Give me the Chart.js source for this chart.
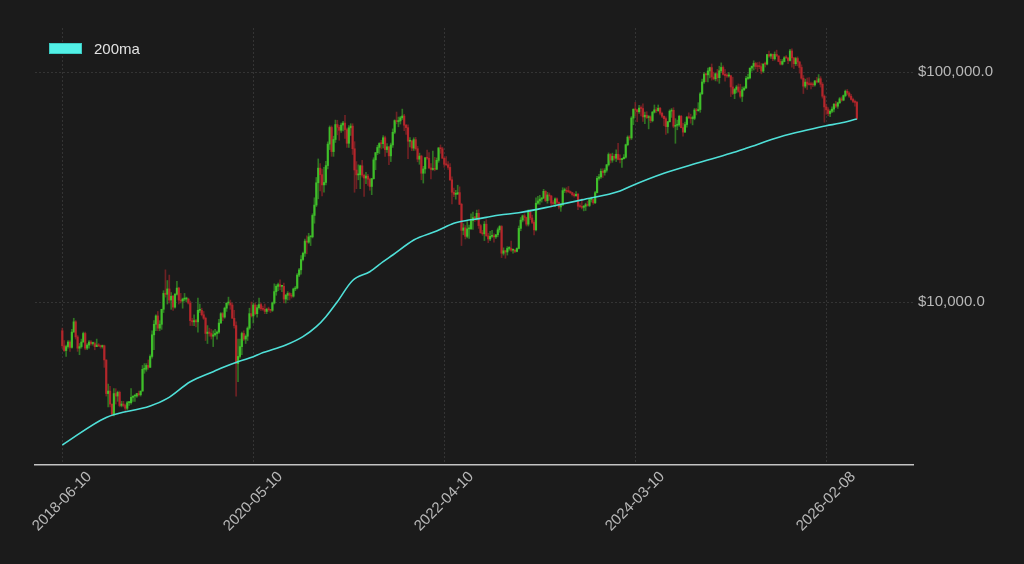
<!DOCTYPE html>
<html>
<head>
<meta charset="utf-8">
<title>BTC weekly with 200ma</title>
<script src="https://cdn.jsdelivr.net/npm/chart.js@4.4.1/dist/chart.umd.min.js"></script>
<style>
  html, body { margin: 0; padding: 0; background: #1b1b1b; }
  #wrap { position: relative; width: 1024px; height: 564px; }
  #legend { position: absolute; left: 49px; top: 40px; height: 17px; display: flex; align-items: center;
            font: 15px 'Liberation Sans', Arial, sans-serif; line-height: 17px; color: #e2e2e2; }
  #legend .swatch { width: 31px; height: 9px; background: #52f0e6; border: 1px solid #3ccbc3; margin-right: 12px; }
</style>
</head>
<body>
<div id="wrap">
  <canvas id="chart" width="1024" height="564"></canvas>
  <div id="legend"><span class="swatch"></span><span>200ma</span></div>
</div>
<script>
(function () {
  'use strict';

  // weekly candles from 2018-06-10, prices in $k
  var OPEN = [
    7.5,6.45,6.15,6.4,6.7,6.35,7.4,8.2,7.05,6.3,
    6.4,6.7,7.3,6.3,6.5,6.7,6.6,6.6,6.4,6.5,
    6.45,6.4,6.45,5.6,4.0,4.1,3.6,3.25,4.0,3.9,
    4.05,3.55,3.6,3.55,3.45,3.65,3.65,3.85,3.9,3.9,
    4.0,3.95,4.1,5.1,5.1,5.3,5.2,5.8,7.2,8.0,
    8.7,7.7,8.0,9.3,10.9,10.8,11.4,10.2,10.6,9.5,
    10.8,11.5,10.2,10.1,10.3,10.3,10.3,9.9,8.3,8.2,
    8.3,8.2,9.2,9.2,8.8,8.5,7.3,7.4,7.3,7.1,
    7.2,7.3,7.4,8.1,8.9,8.6,9.4,9.9,9.9,9.7,
    8.5,7.9,5.4,5.8,6.4,7.3,6.9,7.1,7.7,8.9,
    8.7,9.7,8.9,9.45,9.75,9.35,9.3,9.1,9.3,9.25,
    9.2,9.9,11.1,11.7,11.9,11.7,11.7,10.3,10.7,10.9,
    10.7,10.6,11.4,11.5,13.1,13.8,15.3,16.3,18.4,18.2,
    19.2,19.2,23.8,26.4,33.0,38.2,35.8,32.3,33.1,39.2,
    48.6,57.4,45.1,50.9,59.1,57.5,55.8,58.8,60.0,56.2,
    49.0,57.2,58.2,46.4,37.5,35.7,35.8,39.1,35.6,34.6,
    35.3,34.2,31.8,34.4,41.5,44.6,47.0,48.9,48.8,51.8,
    46.0,47.3,43.2,48.2,54.7,61.5,60.9,61.3,63.3,64.4,
    58.7,57.3,50.0,50.1,46.7,50.8,46.4,41.8,43.1,36.3,
    37.9,42.4,42.2,38.3,37.7,38.1,37.8,41.3,46.8,46.4,
    42.2,39.7,39.5,38.5,34.0,30.0,29.4,29.5,29.9,26.6,
    20.5,21.0,19.3,20.8,20.8,22.6,23.3,23.2,24.3,21.5,
    20.0,19.8,21.8,19.4,18.8,19.3,19.4,19.2,19.6,20.6,
    21.3,16.3,16.7,16.5,17.1,17.1,16.8,16.8,16.6,17.1,
    20.9,22.7,23.7,23.3,21.8,24.6,23.2,22.2,20.6,26.9,
    27.5,28.0,28.3,30.3,27.6,29.2,28.9,26.9,26.8,28.1,
    27.1,25.9,26.4,30.5,30.6,30.3,30.2,29.9,29.3,29.0,
    29.4,26.1,26.0,25.8,26.1,26.5,26.3,27.9,27.9,27.0,
    29.9,34.5,35.0,37.0,36.6,37.4,39.5,43.8,41.4,43.0,
    42.2,43.9,41.7,41.6,42.0,42.6,48.3,52.1,51.7,63.1,
    68.9,68.4,67.2,69.7,69.4,63.8,64.9,63.4,63.9,61.5,
    66.9,68.5,67.8,69.6,66.2,64.2,62.7,57.9,60.8,67.6,
    68.2,58.1,58.7,58.9,64.2,57.3,54.8,59.1,63.6,63.3,
    62.8,62.9,68.4,67.9,68.7,80.4,90.5,98.0,97.2,101.1,
    104.5,95.2,93.4,98.3,94.5,101.3,104.7,97.7,96.5,96.1,
    96.3,86.1,80.7,84.0,86.1,82.4,78.4,83.8,85.2,93.8,
    94.3,104.0,106.0,109.0,105.7,105.6,105.5,100.9,108.4,108.2,
    119.1,117.3,119.4,114.2,119.3,117.5,111.2,108.2,111.1,115.3,
    115.2,112.2,123.5,115.2,108.7,114.5,110.6,104.7,94.0,86.8,
    90.4,88.5,88.2,88.1,87.9,91.5,90.5,93.5,88.5,78.5,
    70.5,68.5,66.0,67.5,69.0,72.5,71.0,73.5,76.5,75.5,
    79.0,82.5,81.0,78.5,76.0,74.5,73.8
  ];
  var HIGH = [
    7.7,6.8,6.5,6.8,6.8,7.6,8.5,8.3,7.15,6.6,
    6.9,7.4,7.4,6.6,6.8,6.8,6.7,6.7,6.9,6.6,
    6.5,6.5,6.5,5.6,4.4,4.3,3.6,4.2,4.2,4.1,
    4.1,3.7,3.7,3.6,3.7,3.7,4.2,3.9,3.95,4.0,
    4.1,4.1,5.3,5.4,5.4,5.6,5.9,7.5,8.3,8.8,
    9.1,8.3,9.3,11.2,13.8,12.4,13.1,11.0,10.7,10.9,
    12.3,11.6,10.9,10.4,10.9,10.5,10.4,10.1,8.5,8.8,
    8.4,10.4,9.8,9.4,9.1,8.6,7.9,7.7,7.6,7.5,
    7.6,7.5,8.4,9.0,9.0,9.5,9.9,10.5,10.2,9.9,
    9.2,8.2,6.9,6.9,7.4,7.5,7.2,7.8,9.4,10.0,
    9.9,9.9,9.7,10.4,9.9,9.6,9.8,9.4,9.5,9.3,
    10.0,12.0,11.9,12.1,12.5,11.8,12.1,10.8,11.1,11.0,
    10.9,11.5,11.7,13.3,14.0,15.9,16.5,18.8,19.4,19.9,
    19.4,24.2,28.4,34.8,41.9,40.0,37.8,38.5,40.9,49.7,
    58.3,58.3,52.6,61.8,61.7,58.6,60.0,61.0,64.9,57.0,
    58.5,59.6,59.6,49.8,40.8,39.5,39.4,41.3,36.0,36.6,
    35.9,34.6,34.5,42.4,44.7,48.0,49.3,50.5,52.9,52.7,
    48.8,47.4,49.1,56.6,62.0,67.0,63.7,64.2,69.0,65.5,
    59.3,59.0,51.9,50.5,51.8,52.0,47.5,44.4,43.5,38.9,
    42.5,45.8,44.7,40.0,45.3,42.6,42.3,46.9,48.2,47.1,
    42.4,42.9,40.8,40.0,35.0,31.3,30.6,32.2,31.7,26.9,
    21.9,21.5,22.4,21.6,24.2,24.6,23.6,25.1,25.2,21.8,
    20.5,22.4,22.8,19.9,20.3,20.5,19.8,19.7,21.0,21.5,
    21.5,17.2,16.8,17.4,17.4,18.4,17.0,16.9,17.2,21.4,
    23.3,23.9,24.2,23.4,25.2,25.1,23.9,22.6,28.4,28.8,
    29.1,28.5,30.9,30.5,30.0,29.8,29.1,27.6,28.4,28.4,
    27.3,26.8,31.4,31.3,31.4,31.8,30.4,30.0,29.7,30.2,
    29.7,26.8,28.1,26.3,26.9,27.4,28.0,28.6,28.0,30.3,
    35.2,35.9,37.9,38.0,38.0,39.7,44.5,44.2,44.4,43.8,
    45.9,49.0,43.6,42.2,43.8,48.6,52.8,52.9,64.0,69.2,
    73.8,68.9,71.6,71.3,72.8,66.9,67.2,64.7,64.5,67.5,
    71.9,70.0,71.9,70.2,66.9,64.5,63.8,61.0,68.5,69.4,
    70.0,62.7,61.8,64.9,64.9,59.8,60.6,64.1,66.5,65.6,
    64.4,69.4,69.5,73.6,81.5,93.3,99.5,98.9,104.0,105.0,
    108.4,99.9,98.9,102.7,106.0,109.6,106.5,102.5,98.5,99.5,
    96.9,95.0,84.9,87.4,88.8,88.5,86.1,86.4,95.8,97.9,
    104.1,106.2,111.9,110.4,110.0,110.6,108.9,108.5,110.6,119.5,
    123.2,120.2,119.8,122.3,124.5,117.6,113.6,113.4,116.7,117.9,
    115.4,125.5,126.2,115.9,116.0,116.4,111.2,107.5,96.6,93.1,
    94.2,94.6,90.5,89.9,91.8,94.8,97.5,95.5,90.0,79.5,
    72.5,70.0,68.5,70.5,73.0,74.5,74.0,77.5,78.0,79.5,
    83.5,84.0,82.0,80.0,77.0,75.5,74.5
  ];
  var LOW = [
    6.3,6.1,5.8,6.3,6.1,6.3,7.4,6.9,6.1,5.9,
    6.3,6.7,6.2,6.2,6.3,6.5,6.5,6.2,6.4,6.4,
    6.3,6.3,5.2,3.9,3.5,3.5,3.2,3.2,3.6,3.7,
    3.5,3.5,3.5,3.35,3.4,3.55,3.6,3.7,3.7,3.85,
    3.9,3.9,4.1,4.9,5.0,5.1,5.2,5.7,6.2,7.5,
    7.5,7.5,7.6,9.0,10.5,9.8,9.9,9.3,9.2,9.4,
    10.7,9.8,9.9,9.4,10.1,10.0,9.8,7.9,7.9,7.9,
    7.8,7.4,9.0,8.7,8.4,6.8,6.6,7.1,6.9,6.4,
    7.1,6.9,7.3,8.1,8.3,8.5,9.1,9.7,9.3,8.5,
    7.7,3.9,4.5,5.7,5.9,6.8,6.6,6.8,7.6,8.6,
    8.1,8.8,8.6,9.3,9.2,9.2,8.9,8.9,9.1,9.0,
    9.1,9.8,10.7,11.2,11.3,11.1,9.9,9.9,10.2,10.2,
    10.4,10.5,11.2,11.4,12.9,13.2,15.1,15.8,16.2,18.0,
    17.6,19.0,22.0,26.0,28.1,30.4,28.9,30.0,32.3,37.9,
    46.0,43.0,43.0,49.4,53.3,50.5,54.6,55.5,51.5,47.0,
    47.0,53.0,43.8,30.0,31.1,34.0,31.1,34.9,28.8,32.7,
    32.1,30.6,29.3,34.2,37.6,43.7,44.2,46.3,46.7,43.0,
    44.7,39.6,40.8,47.0,53.9,59.5,57.8,59.4,62.2,55.6,
    53.5,42.0,47.3,45.5,45.6,45.7,40.7,39.7,34.0,32.9,
    36.3,41.7,38.0,34.3,37.4,37.2,37.6,40.5,44.3,42.1,
    38.5,39.2,37.7,33.7,26.7,28.7,28.0,29.3,26.5,17.6,
    19.6,18.8,19.0,18.9,20.7,20.7,22.4,22.7,20.9,19.9,
    19.5,18.5,19.3,18.1,18.5,19.1,18.2,18.9,19.2,20.1,
    15.6,16.0,15.5,16.0,16.8,16.6,16.3,16.4,16.5,17.0,
    20.4,22.3,22.5,21.4,21.4,22.8,21.9,19.6,20.4,26.6,
    26.6,27.2,28.2,27.3,26.9,27.7,25.9,26.5,26.0,26.6,
    25.4,24.8,26.3,29.9,29.8,29.9,29.6,28.9,28.6,28.8,
    25.2,25.8,25.4,24.9,25.0,26.1,26.0,27.2,26.6,26.8,
    29.8,33.9,34.5,34.8,35.6,36.7,39.0,40.2,40.5,41.4,
    40.8,41.5,40.3,38.5,41.8,42.2,47.8,50.6,50.9,59.0,
    64.5,60.8,66.0,64.5,61.0,59.6,62.8,56.6,60.2,60.7,
    66.3,66.6,67.6,65.1,63.4,58.4,53.5,54.3,60.6,63.5,
    57.2,49.0,56.1,58.0,57.2,52.6,54.6,57.6,62.7,59.9,
    58.9,62.0,65.1,67.5,66.8,80.0,89.3,90.8,90.5,94.3,
    92.2,92.5,91.5,91.2,89.3,99.5,96.8,91.2,94.8,94.9,
    78.2,79.8,76.6,81.1,81.6,77.1,74.4,83.0,84.9,92.8,
    93.4,100.8,102.0,103.1,100.4,103.4,98.2,99.6,105.1,107.5,
    115.7,114.7,112.0,112.7,116.8,110.8,107.3,107.3,110.6,114.7,
    108.7,111.6,105.0,103.5,106.7,106.4,98.9,93.0,80.6,85.3,
    84.0,87.6,84.5,86.4,86.8,89.5,90.0,86.0,77.0,60.5,
    65.5,64.5,64.0,66.5,67.0,70.0,69.5,73.0,74.5,75.0,
    78.0,79.5,77.5,75.5,73.5,71.0,62.0
  ];
  var CLOSE = [
    6.45,6.15,6.4,6.7,6.35,7.4,8.2,7.05,6.3,6.4,
    6.7,7.3,6.3,6.5,6.7,6.6,6.6,6.4,6.5,6.45,
    6.4,6.45,5.6,4.0,4.1,3.6,3.25,4.0,3.9,4.05,
    3.55,3.6,3.55,3.45,3.65,3.65,3.85,3.9,3.9,4.0,
    3.95,4.1,5.1,5.1,5.3,5.2,5.8,7.2,8.0,8.7,
    7.7,8.0,9.3,10.9,10.8,11.4,10.2,10.6,9.5,10.8,
    11.5,10.2,10.1,10.3,10.3,10.3,9.9,8.3,8.2,8.3,
    8.2,9.2,9.2,8.8,8.5,7.3,7.4,7.3,7.1,7.2,
    7.3,7.4,8.1,8.9,8.6,9.4,9.9,9.9,9.7,8.5,
    7.9,5.4,5.8,6.4,7.3,6.9,7.1,7.7,8.9,8.7,
    9.7,8.9,9.45,9.75,9.35,9.3,9.1,9.3,9.25,9.2,
    9.9,11.1,11.7,11.9,11.7,11.7,10.3,10.7,10.9,10.7,
    10.6,11.4,11.5,13.1,13.8,15.3,16.3,18.4,18.2,19.2,
    19.2,23.8,26.4,33.0,38.2,35.8,32.3,33.1,39.2,48.6,
    57.4,45.1,50.9,59.1,57.5,55.8,58.8,60.0,56.2,49.0,
    57.2,58.2,46.4,37.5,35.7,35.8,39.1,35.6,34.6,35.3,
    34.2,31.8,34.4,41.5,44.6,47.0,48.9,48.8,51.8,46.0,
    47.3,43.2,48.2,54.7,61.5,60.9,61.3,63.3,64.4,58.7,
    57.3,50.0,50.1,46.7,50.8,46.4,41.8,43.1,36.3,37.9,
    42.4,42.2,38.3,37.7,38.1,37.8,41.3,46.8,46.4,42.2,
    39.7,39.5,38.5,34.0,30.0,29.4,29.5,29.9,26.6,20.5,
    21.0,19.3,20.8,20.8,22.6,23.3,23.2,24.3,21.5,20.0,
    19.8,21.8,19.4,18.8,19.3,19.4,19.2,19.6,20.6,21.3,
    16.3,16.7,16.5,17.1,17.1,16.8,16.8,16.6,17.1,20.9,
    22.7,23.7,23.3,21.8,24.6,23.2,22.2,20.6,26.9,27.5,
    28.0,28.3,30.3,27.6,29.2,28.9,26.9,26.8,28.1,27.1,
    25.9,26.4,30.5,30.6,30.3,30.2,29.9,29.3,29.0,29.4,
    26.1,26.0,25.8,26.1,26.5,26.3,27.9,27.9,27.0,29.9,
    34.5,35.0,37.0,36.6,37.4,39.5,43.8,41.4,43.0,42.2,
    43.9,41.7,41.6,42.0,42.6,48.3,52.1,51.7,63.1,68.9,
    68.4,67.2,69.7,69.4,63.8,64.9,63.4,63.9,61.5,66.9,
    68.5,67.8,69.6,66.2,64.2,62.7,57.9,60.8,67.6,68.2,
    58.1,58.7,58.9,64.2,57.3,54.8,59.1,63.6,63.3,62.8,
    62.9,68.4,67.9,68.7,80.4,90.5,98.0,97.2,101.1,104.5,
    95.2,93.4,98.3,94.5,101.3,104.7,97.7,96.5,96.1,96.3,
    86.1,80.7,84.0,86.1,82.4,78.4,83.8,85.2,93.8,94.3,
    104.0,106.0,109.0,105.7,105.6,105.5,100.9,108.4,108.2,119.1,
    117.3,119.4,114.2,119.3,117.5,111.2,108.2,111.1,115.3,115.2,
    112.2,123.5,115.2,108.7,114.5,110.6,104.7,94.0,86.8,90.4,
    88.5,88.2,88.1,87.9,91.5,90.5,93.5,88.5,78.5,70.5,
    68.5,66.0,67.5,69.0,72.5,71.0,73.5,76.5,75.5,79.0,
    82.5,81.0,78.5,76.0,74.5,73.8,62.8
  ];

  // 200 week moving average, read at these week numbers ($k)
  var MA_WEEKS = [0, 23, 46, 55, 67, 79, 83, 93, 100, 104, 117, 126, 133, 138, 144, 152, 161, 168, 173, 184,
    187, 196, 205, 208, 219, 222, 229, 239, 257, 272, 292, 297, 315, 332, 350, 358, 376, 390, 400, 407, 416];
  var MA_VALUES = [2.39, 3.15, 3.53, 3.81, 4.50, 4.98, 5.15, 5.54, 5.78, 5.98, 6.50, 7.07, 7.81, 8.63, 10.03, 12.40, 13.54, 14.97, 16.01, 18.60,
    19.11, 20.36, 21.98, 22.34, 23.11, 23.34, 23.89, 24.45, 26.15, 27.8, 30.38, 31.72, 36.27, 40.09, 44.32, 46.59, 52.33, 55.96, 58.42, 59.84, 62.47];

  var TICK_WEEKS = [0, 100, 200, 300, 400];
  var TICK_LABELS = ['2018-06-10', '2020-05-10', '2022-04-10', '2024-03-10', '2026-02-08'];
  var Y_TICKS = [10000, 100000];

  var K = 1000;
  var UP = '#3fbf2a';
  var DOWN = '#b3262b';
  var UP_WICK = 'rgba(63, 191, 42, 0.55)';
  var DOWN_WICK = 'rgba(179, 38, 43, 0.55)';
  var MA_COLOR = '#4fe0d8';
  var TEXT = '#b8b8b8';
  var GRID = 'rgba(255, 255, 255, 0.11)';
  var FONT = "'Liberation Sans', Arial, sans-serif";

  function isUp(i) { return CLOSE[i] >= OPEN[i]; }

  var wicks = [], bodies = [];
  for (var i = 0; i < CLOSE.length; i++) {
    wicks.push({ x: i, y: [LOW[i] * K, HIGH[i] * K] });
    bodies.push({ x: i, y: [OPEN[i] * K, CLOSE[i] * K] });
  }
  var ma = MA_WEEKS.map(function (w, k) { return { x: w, y: MA_VALUES[k] * K }; });

  new Chart(document.getElementById('chart'), {
    type: 'bar',
    data: {
      datasets: [
        { type: 'line', label: '200ma', data: ma, borderColor: MA_COLOR, backgroundColor: MA_COLOR, borderWidth: 1.6,
          pointRadius: 0, cubicInterpolationMode: 'monotone', order: 0 },
        { label: 'body', data: bodies, barThickness: 1.5, minBarLength: 1, grouped: false, borderWidth: 0, order: 1,
          backgroundColor: function (ctx) { return isUp(ctx.dataIndex) ? UP : DOWN; } },
        { label: 'wick', data: wicks, barThickness: 1, grouped: false, borderWidth: 0, order: 2,
          backgroundColor: function (ctx) { return isUp(ctx.dataIndex) ? UP_WICK : DOWN_WICK; } }
      ]
    },
    options: {
      responsive: false,
      animation: false,
      layout: { padding: { left: 35, top: 28, right: 0, bottom: 0 } },
      plugins: { legend: { display: false }, tooltip: { enabled: false } },
      scales: {
        x: {
          type: 'linear',
          offset: false,
          min: -14.3,
          max: 445.4,
          afterBuildTicks: function (scale) { scale.ticks = TICK_WEEKS.map(function (v) { return { value: v }; }); },
          afterFit: function (scale) { scale.height = 99; },
          ticks: {
            autoSkip: false, minRotation: 45, maxRotation: 45, labelOffset: 27, padding: 3,
            color: TEXT, font: { family: FONT, size: 15 },
            callback: function (v, idx) { return TICK_LABELS[idx]; }
          },
          grid: { color: GRID, drawTicks: false, offset: false },
          border: { display: true, color: '#c4c4c4', width: 1.5, dash: [2, 2] }
        },
        y: {
          type: 'logarithmic',
          position: 'right',
          min: 1956,
          max: 155400,
          afterBuildTicks: function (scale) { scale.ticks = Y_TICKS.map(function (v) { return { value: v }; }); },
          afterFit: function (scale) { scale.width = 111; },
          ticks: {
            padding: 5, color: TEXT, font: { family: FONT, size: 15 },
            callback: function (v) { return '$' + v.toLocaleString('en-US', { minimumFractionDigits: 1, maximumFractionDigits: 1 }); }
          },
          grid: { color: GRID, drawTicks: false },
          border: { display: false, dash: [2, 2] }
        }
      }
    }
  });
})();
</script>
</body>
</html>
